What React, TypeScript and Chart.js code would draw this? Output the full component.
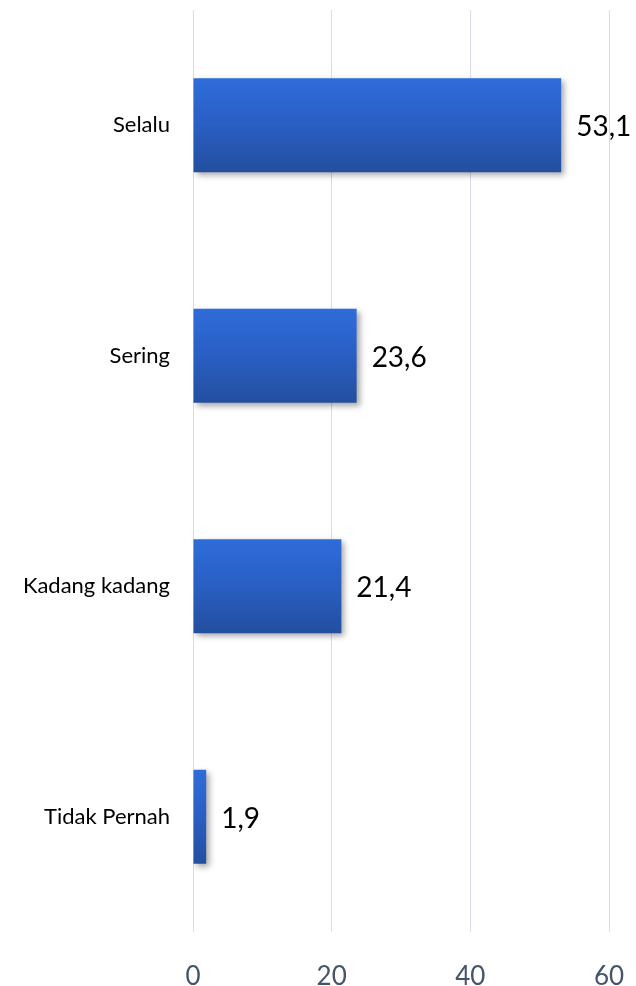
import React, { useEffect, useRef } from "react";
import { Chart, registerables } from "chart.js";

Chart.register(...registerables);

const categories = ["Selalu", "Sering", "Kadang kadang", "Tidak Pernah"];
const values = [53.1, 23.6, 21.4, 1.9];
const valueLabels = ["53,1", "23,6", "21,4", "1,9"];
const xMin = 0;
const xMax = 60;
const xStep = 20;

const FONT = "Lato, 'Open Sans', sans-serif";

export default function App() {
  const ref = useRef<HTMLCanvasElement | null>(null);

  useEffect(() => {
    if (!ref.current) return;
    const shadowPlugin = {
      id: "barShadow",
      beforeDatasetsDraw(chart: any) {
        const ctx = chart.ctx;
        ctx.save();
        ctx.shadowColor = "rgba(0,0,0,0.35)";
        ctx.shadowBlur = 6;
        ctx.shadowOffsetX = 3;
        ctx.shadowOffsetY = 3;
      },
      afterDatasetsDraw(chart: any) {
        const ctx = chart.ctx;
        ctx.restore();
        const meta = chart.getDatasetMeta(0);
        ctx.save();
        ctx.font = `28px ${FONT}`;
        ctx.fillStyle = "#000000";
        ctx.textAlign = "left";
        ctx.textBaseline = "middle";
        meta.data.forEach((bar: any, i: number) => {
          ctx.fillText(valueLabels[i], bar.x + 15, bar.y + 2);
        });
        ctx.restore();
      },
    };

    const chart = new Chart(ref.current, {
      type: "bar",
      data: {
        labels: categories,
        datasets: [
          {
            data: values,
            backgroundColor: (c: any) => {
              const ch = c.chart;
              const ys = ch.scales && ch.scales.y;
              if (!ys || c.dataIndex === undefined) return "#2a5fc4";
              const yc = ys.getPixelForValue(c.dataIndex);
              if (!isFinite(yc)) return "#2a5fc4";
              const half = 47;
              const g = ch.ctx.createLinearGradient(0, yc - half, 0, yc + half);
              g.addColorStop(0, "#2f6cd9");
              g.addColorStop(0.45, "#2a60c6");
              g.addColorStop(1, "#234f9e");
              return g;
            },
            borderWidth: 0,
            categoryPercentage: 1,
            barPercentage: 0.407,
          },
        ],
      },
      options: {
        indexAxis: "y",
        animation: false,
        responsive: false,
        maintainAspectRatio: false,
        layout: { padding: { top: 10, right: 27, left: 0, bottom: 0 } },
        plugins: { legend: { display: false }, tooltip: { enabled: false } },
        scales: {
          x: {
            min: xMin,
            max: xMax,
            afterFit: (s: any) => {
              s.height = 54;
              s.paddingLeft = 0;
              s.paddingRight = 0;
            },
            grid: { color: "#d9dde6", lineWidth: 1, drawTicks: false },
            border: { display: false },
            ticks: {
              stepSize: xStep,
              color: "#44546a",
              font: { family: FONT, size: 26 },
              padding: 29,
            },
          },
          y: {
            afterFit: (s: any) => {
              s.width = 193;
              s.paddingTop = 0;
              s.paddingBottom = 0;
            },
            grid: { display: false, drawTicks: false },
            border: { display: false },
            ticks: {
              color: "#000000",
              font: { family: FONT, size: 22 },
              padding: 23,
            },
          },
        },
      },
      plugins: [shadowPlugin],
    } as any);
    return () => chart.destroy();
  }, []);

  return (
    <div style={{ position: "fixed", left: 0, top: 0, width: 636, height: 986, background: "#fff" }}>
      <canvas ref={ref} width={636} height={986} style={{ width: 636, height: 986, display: "block" }} />
    </div>
  );
}
